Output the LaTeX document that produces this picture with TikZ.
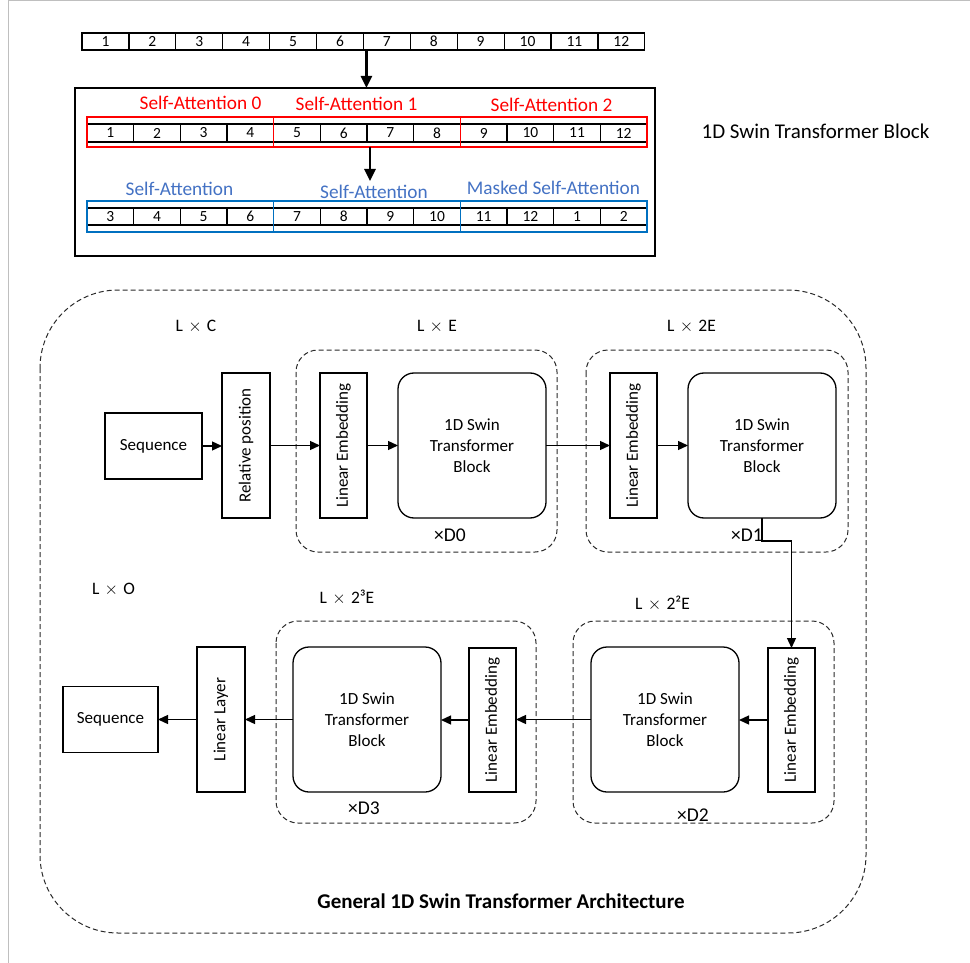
\documentclass[tikz,border=0pt]{standalone}
\usepackage{fontspec}
\setmainfont{Carlito}
\usetikzlibrary{arrows.meta}
\definecolor{sred}{HTML}{FF0000}
\definecolor{sbluetext}{HTML}{4472C4}
\definecolor{sbluebox}{HTML}{0070C0}
\definecolor{dashgray}{HTML}{2A2A2A}
\newcommand{\lx}{\hspace{0.3em}$\times$\hspace{0.3em}}
\begin{document}
\begin{tikzpicture}[x=1pt,y=-1pt,
  every node/.style={font=\fontsize{17}{21}\selectfont, inner sep=0pt, outer sep=0pt},
  cell/.style={draw, line width=1.2pt, minimum height=17pt, font=\fontsize{15.5}{15}\selectfont},
  grp/.style={line width=1.4pt, minimum height=30pt},
  plainbox/.style={draw, line width=1.3pt},
  vbox/.style={plainbox, minimum width=47pt, minimum height=145pt},
  swin/.style={plainbox, rounded corners=16pt, minimum width=148pt, minimum height=145pt, align=center},
  dashbox/.style={draw=dashgray, line width=1pt, dash pattern=on 5pt off 3pt, rounded corners=22pt},
  arr/.style={line width=1.3pt, -{Triangle[length=10pt,width=9pt]}},
  bigarr/.style={line width=2.5pt, -{Triangle[length=12pt,width=11pt]}},
  lbl/.style={font=\fontsize{19.3}{21}\selectfont},
  dim/.style={font=\fontsize{17.5}{21}\selectfont},
  rep/.style={font=\fontsize{19.5}{21}\selectfont}
]
\useasboundingbox (0,0) rectangle (970,963);
\fill[white] (0,0) rectangle (970,963);
\draw[black!25, line width=1pt] (970,0.5) -- (8,0.5) -- (8,963);

% ---------- top sequence ----------
\foreach \i in {1,...,12}
  \node[cell, minimum width=46.9pt] (t\i) at ({82+46.9*(\i-0.5)}, 41.5) {\i};

% ---------- block ----------
\node[draw, line width=2pt, minimum width=580pt, minimum height=168pt] (blk) at (365,172) {};
\node[font=\fontsize{21}{22}\selectfont] (blklbl) at (815.5,131) {1D Swin Transformer Block};

\draw[bigarr] ([xshift=3pt]t7.south west) -- ([xshift=3pt]t7.south west |- blk.north);

% red row
\foreach \lab [count=\i] in {1,2,3,4,5,6,7,8,9,10,11,12}
  \node[cell, minimum width=46.67pt, minimum height=18pt] (r\i) at ({87+46.67*(\i-0.5)}, 133) {\lab};
\node[grp, draw=sred, minimum width=186.67pt] (rg1) at (180.33,132) {};
\node[grp, draw=sred, minimum width=186.67pt] (rg2) at (367,132) {};
\node[grp, draw=sred, minimum width=186.67pt] (rg3) at (553.67,132) {};
\node[lbl, text=sred] (ra0) at (200.5,103) {Self-Attention 0};
\node[lbl, text=sred] (ra1) at (356.5,104) {Self-Attention 1};
\node[lbl, text=sred] (ra2) at (551.5,105) {Self-Attention 2};

\coordinate (a2end) at (370,181);
\draw[bigarr] (rg2.south -| a2end) -- (a2end);

% blue row
\foreach \lab [count=\i] in {3,4,5,6,7,8,9,10,11,12,1,2}
  \node[cell, minimum width=46.67pt, minimum height=17pt] (b\i) at ({87+46.67*(\i-0.5)}, 216.5) {\lab};
\node[grp, draw=sbluebox, minimum width=186.67pt, minimum height=31pt] (bg1) at (180.33,216.5) {};
\node[grp, draw=sbluebox, minimum width=186.67pt, minimum height=31pt] (bg2) at (367,216.5) {};
\node[grp, draw=sbluebox, minimum width=186.67pt, minimum height=31pt] (bg3) at (553.67,216.5) {};
\node[lbl, text=sbluetext] (ba0) at (179.5,189) {Self-Attention};
\node[lbl, text=sbluetext] (ba1) at (374,192) {Self-Attention};
\node[lbl, text=sbluetext] (ba2) at (553.5,188) {Masked Self-Attention};

% ---------- architecture ----------
\draw[dashbox, rounded corners=78pt] (40,290) rectangle (866,933);
\draw[dashbox] (296,350) rectangle (557,552);
\draw[dashbox] (586,350) rectangle (848,552);
\draw[dashbox] (573,621) rectangle (834,823);
\draw[dashbox] (276,621) rectangle (536,823);

\node[dim] (dlc) at (196,327) {L\lx C};
\node[dim] (dle) at (437,327) {L\lx E};
\node[dim] (dl2e) at (691.5,327) {L\lx 2E};
\node[dim] (dlo) at (113.5,590) {L\lx O};
\node[dim] (dl8e) at (347,597) {L\lx 2³E};
\node[dim] (dl4e) at (662.5,603) {L\lx 2²E};
\node[rep] (xd0) at (450,535) {×D0};
\node[rep] (xd1) at (747,535) {×D1};
\node[rep] (xd2) at (693,815) {×D2};
\node[rep] (xd3) at (364,808) {×D3};

\node[plainbox, minimum width=97pt, minimum height=66pt] (seq1) at (153.5,446) {Sequence};
\node[vbox, minimum width=48pt] (rp) at (246,445.5) {};
\node[rotate=90] at (rp.center) {Relative position};
\node[vbox] (le1) at (343.5,445.5) {};
\node[rotate=90] at (le1.center) {Linear Embedding};
\node[swin] (sw1) at (472,445.5) {1D Swin\\Transformer\\Block};
\node[vbox] (le2) at (633.5,445.5) {};
\node[rotate=90] at (le2.center) {Linear Embedding};
\node[swin] (sw2) at (762,445.5) {1D Swin\\Transformer\\Block};

\node[vbox, minimum height=144pt] (le3) at (791.5,720) {};
\node[rotate=90] at (le3.center) {Linear Embedding};
\node[swin] (sw3) at (665,719.5) {1D Swin\\Transformer\\Block};
\node[vbox, minimum height=144pt] (le4) at (492.5,720) {};
\node[rotate=90] at (le4.center) {Linear Embedding};
\node[swin] (sw4) at (367,719.5) {1D Swin\\Transformer\\Block};
\node[vbox, minimum width=48pt] (ll) at (221,719.5) {};
\node[rotate=90] at (ll.center) {Linear Layer};
\node[plainbox, minimum width=95pt, minimum height=66pt] (seq2) at (110.5,719.5) {Sequence};

\draw[arr] (seq1.east) -- (rp.west |- seq1.east);
\draw[arr] (rp.east) -- (le1.west);
\draw[arr] (le1.east) -- (sw1.west);
\draw[arr] (sw1.east) -- (le2.west);
\draw[arr] (le2.east) -- (sw2.west);
\draw[arr] (sw2.south) -- ++(0,23) -| (le3.north);
\draw[arr] (le3.west) -- (sw3.east |- le3.west);
\draw[arr] (sw3.west) -- (le4.east |- sw3.west);
\draw[arr] (le4.west) -- (sw4.east |- le4.west);
\draw[arr] (sw4.west) -- (ll.east);
\draw[arr] (ll.west) -- (seq2.east);

\node[font=\fontsize{21}{22}\selectfont\bfseries] (title) at (501,901) {General 1D Swin Transformer Architecture};
\end{tikzpicture}
\end{document}
